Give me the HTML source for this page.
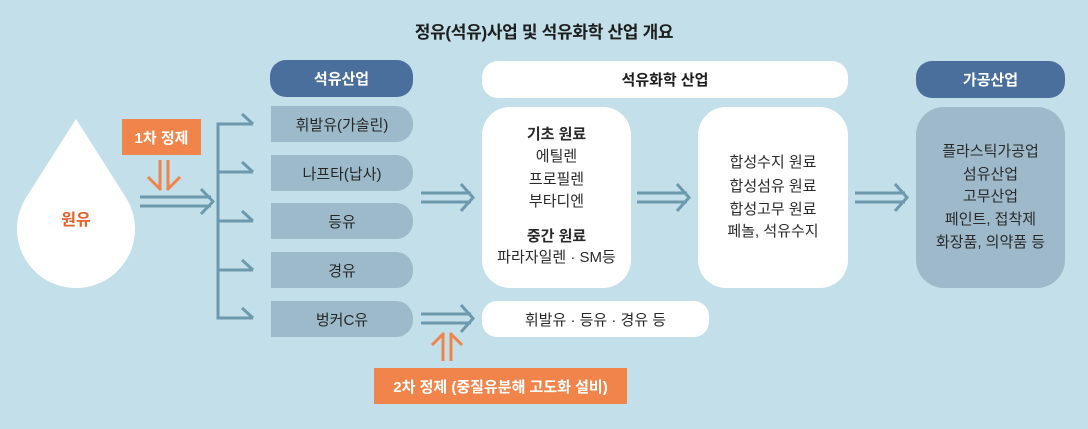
<!DOCTYPE html>
<html><head><meta charset="utf-8">
<style>
html,body{margin:0;padding:0;}
body{width:1088px;height:429px;position:relative;overflow:hidden;background:#c3dfea;font-family:"Liberation Sans","Noto Sans CJK KR",sans-serif;color:#2a2a2a;}
.a{position:absolute;}
.t{position:absolute;text-align:center;white-space:nowrap;}
.title{left:0;width:1088px;top:21px;font-size:17px;font-weight:bold;line-height:24px;color:#1e1e1e;letter-spacing:-0.3px;}
.hd{position:absolute;height:37px;border-radius:16px;display:flex;align-items:center;justify-content:center;font-size:15px;font-weight:bold;}
.dark{background:#4a6f9d;color:#fff;}
.item{position:absolute;left:271px;width:142px;height:36px;background:#9dbacb;border-radius:0 17px 17px 0;display:flex;align-items:center;justify-content:center;font-size:15px;color:#262626;}
.box{position:absolute;top:107px;height:181px;width:149px;border-radius:28px;}
.ln{position:absolute;text-align:center;white-space:nowrap;font-size:15px;line-height:22px;height:22px;}
.or{position:absolute;background:#f0844a;color:#fff;font-weight:bold;font-size:15px;display:flex;align-items:center;justify-content:center;}
</style></head><body>
<svg class="a" style="left:0;top:0" width="1088" height="429" viewBox="0 0 1088 429">
  <path d="M76,119 L26.2,197.4 A59,59 0 1 0 125.8,197.4 Z" fill="#ffffff"/>
  <g stroke="#6c99ae" stroke-width="3" fill="none" stroke-linecap="butt" stroke-linejoin="miter">
    <!-- drop arrow -->
    <line x1="140" y1="197" x2="211" y2="197"/>
    <line x1="140" y1="206" x2="211" y2="206"/>
    <polyline points="201,189 213,201.5 201,214"/>
    <!-- bracket -->
    <path d="M253,124 L218,124 L218,318 L253,318"/>
    <line x1="218" y1="172" x2="253" y2="172"/>
    <line x1="218" y1="221" x2="253" y2="221"/>
    <line x1="218" y1="270" x2="253" y2="270"/>
    <line x1="253" y1="124" x2="242" y2="114"/>
    <line x1="253" y1="172" x2="242" y2="162"/>
    <line x1="253" y1="221" x2="242" y2="211"/>
    <line x1="253" y1="270" x2="242" y2="260"/>
    <line x1="253" y1="318" x2="242" y2="308"/>
    <!-- arrow 1 -->
    <line x1="421" y1="193" x2="471" y2="193"/>
    <line x1="421" y1="202" x2="471" y2="202"/>
    <polyline points="461,184 473,197.5 461,211"/>
    <!-- arrow 2 -->
    <line x1="637" y1="193" x2="687" y2="193"/>
    <line x1="637" y1="202" x2="687" y2="202"/>
    <polyline points="677,184 689,197.5 677,211"/>
    <!-- arrow 3 -->
    <line x1="855" y1="193" x2="905" y2="193"/>
    <line x1="855" y1="202" x2="905" y2="202"/>
    <polyline points="895,184 907,197.5 895,211"/>
    <!-- bottom arrow -->
    <line x1="421" y1="314" x2="471" y2="314"/>
    <line x1="421" y1="323" x2="471" y2="323"/>
    <polyline points="461,305 473,318.5 461,332"/>
  </g>
  <g stroke="#f0844a" stroke-width="3" fill="none">
    <line x1="160" y1="160" x2="160" y2="189"/>
    <line x1="168" y1="160" x2="168" y2="189"/>
    <line x1="148" y1="177" x2="161" y2="190"/>
    <line x1="180" y1="177" x2="167" y2="190"/>
    <line x1="443" y1="334" x2="443" y2="361"/>
    <line x1="451" y1="334" x2="451" y2="361"/>
    <line x1="432" y1="345" x2="444" y2="333"/>
    <line x1="462" y1="345" x2="450" y2="333"/>
  </g>
</svg>

<div class="t title">정유(석유)사업 및 석유화학 산업 개요</div>

<div class="t" style="left:36px;width:80px;top:209px;font-size:16px;font-weight:bold;line-height:24px;color:#e3612b;">원유</div>

<div class="or" style="left:122px;top:119px;width:79px;height:36px;">1차 정제</div>
<div class="or" style="left:374px;top:368px;width:253px;height:36px;">2차 정제 (중질유분해 고도화 설비)</div>

<div class="hd dark" style="left:270px;top:60px;width:143px;">석유산업</div>
<div class="item" style="top:106px;">휘발유(가솔린)</div>
<div class="item" style="top:155px;">나프타(납사)</div>
<div class="item" style="top:203px;">등유</div>
<div class="item" style="top:252px;">경유</div>
<div class="item" style="top:301px;">벙커C유</div>

<div class="hd" style="left:482px;top:61px;width:366px;background:#fff;color:#1e1e1e;">석유화학 산업</div>
<div class="hd dark" style="left:916px;top:61px;width:149px;">가공산업</div>

<div class="box" style="left:482px;background:#fff;"></div>
<div class="ln" style="left:482px;width:149px;top:124px;font-weight:bold;">기초 원료</div>
<div class="ln" style="left:482px;width:149px;top:146px;">에틸렌</div>
<div class="ln" style="left:482px;width:149px;top:169px;">프로필렌</div>
<div class="ln" style="left:482px;width:149px;top:191px;">부타디엔</div>
<div class="ln" style="left:482px;width:149px;top:226px;font-weight:bold;">중간 원료</div>
<div class="ln" style="left:482px;width:149px;top:247px;">파라자일렌 · SM등</div>

<div class="box" style="left:698px;width:150px;background:#fff;"></div>
<div class="ln" style="left:698px;width:150px;top:152px;">합성수지 원료</div>
<div class="ln" style="left:698px;width:150px;top:176px;">합성섬유 원료</div>
<div class="ln" style="left:698px;width:150px;top:199px;">합성고무 원료</div>
<div class="ln" style="left:698px;width:150px;top:221px;">페놀, 석유수지</div>

<div class="box" style="left:916px;background:#9db9ca;"></div>
<div class="ln" style="left:916px;width:149px;top:141px;">플라스틱가공업</div>
<div class="ln" style="left:916px;width:149px;top:164px;">섬유산업</div>
<div class="ln" style="left:916px;width:149px;top:186px;">고무산업</div>
<div class="ln" style="left:916px;width:149px;top:209px;">페인트, 접착제</div>
<div class="ln" style="left:916px;width:149px;top:232px;">화장품, 의약품 등</div>

<div class="hd" style="left:482px;top:301px;width:227px;height:36px;background:#fff;font-weight:normal;color:#262626;border-radius:15px;">휘발유 · 등유 · 경유 등</div>

</body></html>
